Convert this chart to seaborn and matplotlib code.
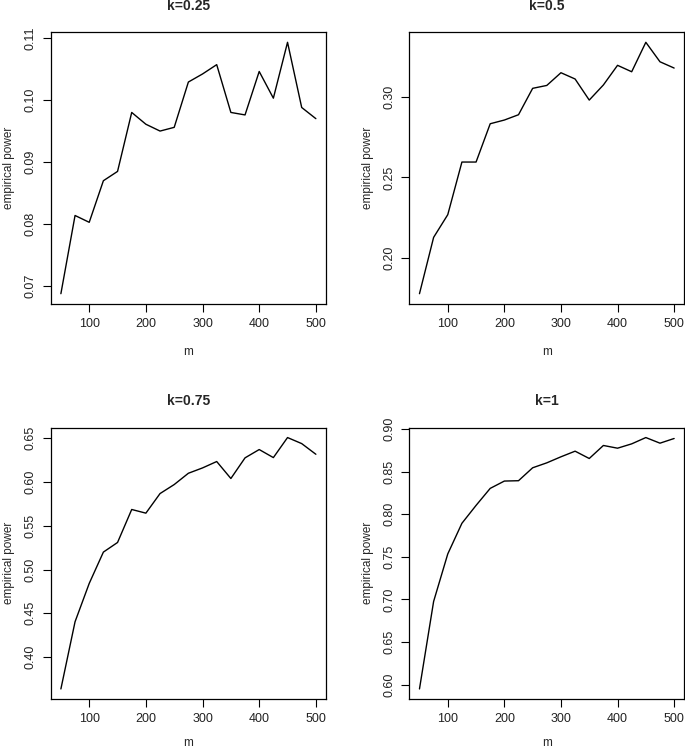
import matplotlib
matplotlib.use("Agg")
import matplotlib.pyplot as plt
import seaborn as sns
import pandas as pd

# --- Data ---
M_VALUES = [50, 75, 100, 125, 150, 175, 200, 225, 250, 275,
            300, 325, 350, 375, 400, 425, 450, 475, 500]

POWER_K025 = [0.0688, 0.0814, 0.0803, 0.0870, 0.0885, 0.0980, 0.0961, 0.0950, 0.0956, 0.1029,
              0.1042, 0.1057, 0.0980, 0.0976, 0.1046, 0.1003, 0.1093, 0.0988, 0.0970]
POWER_K05 = [0.1778, 0.2128, 0.2269, 0.2596, 0.2596, 0.2834, 0.2857, 0.2890, 0.3054, 0.3072,
             0.3151, 0.3112, 0.2981, 0.3075, 0.3197, 0.3157, 0.3340, 0.3219, 0.3180]
POWER_K075 = [0.3635, 0.4403, 0.4841, 0.5199, 0.5309, 0.5686, 0.5644, 0.5868, 0.5971, 0.6100,
              0.6161, 0.6234, 0.6040, 0.6276, 0.6371, 0.6279, 0.6508, 0.6439, 0.6317]
POWER_K1 = [0.5949, 0.6977, 0.7535, 0.7895, 0.8105, 0.8305, 0.8391, 0.8395, 0.8547, 0.8605,
            0.8676, 0.8742, 0.8656, 0.8809, 0.8777, 0.8828, 0.8902, 0.8836, 0.8891]

TITLES = ["k=0.25", "k=0.5", "k=0.75", "k=1"]
Y_TICKS = [
    [0.07, 0.08, 0.09, 0.10, 0.11],
    [0.20, 0.25, 0.30],
    [0.40, 0.45, 0.50, 0.55, 0.60, 0.65],
    [0.60, 0.65, 0.70, 0.75, 0.80, 0.85, 0.90],
]
X_TICKS = [100, 200, 300, 400, 500]

OUTPUT_PLOT = "out.png"


def main():
    sns.set_theme(style="ticks")
    plt.rcParams["font.family"] = ["Liberation Sans", "DejaVu Sans"]

    fig = plt.figure(figsize=(6.85, 7.5), dpi=100)

    # axes positions in figure fraction: [left, bottom, width, height]
    positions = [
        [0.074, 0.595, 0.402, 0.362],
        [0.5975, 0.595, 0.4015, 0.362],
        [0.074, 0.068, 0.402, 0.362],
        [0.5975, 0.068, 0.4015, 0.362],
    ]
    series = [POWER_K025, POWER_K05, POWER_K075, POWER_K1]

    for i, (pos, values, title, yticks) in enumerate(zip(positions, series, TITLES, Y_TICKS)):
        ax = fig.add_axes(pos)
        df = pd.DataFrame({"m": M_VALUES, "power": values})
        sns.lineplot(data=df, x="m", y="power", ax=ax, color="black", linewidth=1.0)

        ax.margins(x=0.04, y=0.04)
        ax.set_xticks(X_TICKS)
        ax.set_yticks(yticks)
        ax.set_yticklabels([f"{t:.2f}" for t in yticks], rotation=90, va="center")

        for sp in ax.spines.values():
            sp.set_visible(True)
            sp.set_linewidth(0.9)
            sp.set_color("black")
        ax.tick_params(axis="both", direction="out", length=6, width=0.8,
                       labelsize=9, color="black", labelcolor="#222222", pad=4)
        ax.grid(False)

        ax.set_title(title, fontsize=10, fontweight="bold", pad=16)
        # bottom row label pulled up a little so it stays inside the figure
        ax.set_xlabel("m", fontsize=8.5, labelpad=12 if i < 2 else 9)
        ax.set_ylabel("empirical power", fontsize=8.5, labelpad=7)

    fig.savefig(OUTPUT_PLOT, dpi=100)


if __name__ == "__main__":
    main()
